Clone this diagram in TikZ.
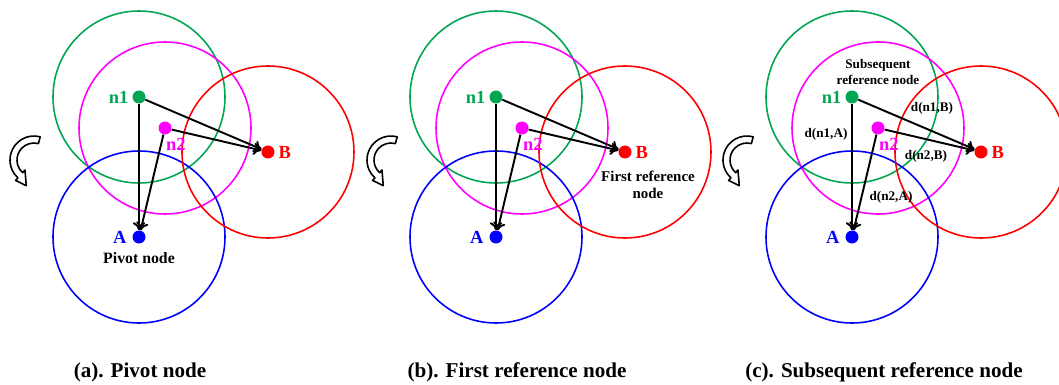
\documentclass[tikz,border=0pt]{standalone}
\usepackage{fontspec}
\setmainfont{Liberation Serif}
\definecolor{ngreen}{RGB}{0,166,81}
\definecolor{nmagenta}{RGB}{255,0,255}
\definecolor{nred}{RGB}{255,0,0}
\definecolor{nblue}{RGB}{0,0,255}
\usetikzlibrary{arrows.meta, positioning, calc}

\begin{document}
\begin{tikzpicture}[x=0.02cm, y=0.02cm,
  ring/.style={line width=0.9pt},
  dot/.style={circle, inner sep=0pt, minimum size=7.4pt},
  link/.style={-{To[length=4.5pt, width=7pt]}, line width=1.1pt},
  ltr/.style={inner sep=1pt, font=\bfseries\fontsize{10.5}{12}\selectfont},
  note/.style={align=center, inner sep=1pt, font=\bfseries\fontsize{8.5}{9.5}\selectfont},
  dist/.style={inner sep=1pt, font=\bfseries\fontsize{7.5}{9}\selectfont},
  captext/.style={font=\bfseries\fontsize{12}{14}\selectfont},
  turn/.style={draw, fill=white, line width=0.9pt, line join=round}
]
  \useasboundingbox (0,0) rectangle (1059,-385);

  \foreach \p/\dx in {a/0, b/357, c/713}{
    \begin{scope}[shift={(\dx,0)}]
      \node[dot, fill=ngreen] (n1\p) at (139,-97) {};
      \node[dot, fill=nmagenta] (n2\p) at (165,-128) {};
      \node[dot, fill=nblue] (A\p) at (139,-237) {};
      \node[dot, fill=nred] (B\p) at (268,-152) {};
      % ranges
      \draw[ring, ngreen] (n1\p) circle[radius=86];
      \draw[ring, nmagenta] (n2\p) circle[radius=86];
      \draw[ring, nblue] (A\p) circle[radius=86];
      \draw[ring, nred] (B\p) circle[radius=86];
      % distances
      \draw[link] (n1\p) -- (A\p);
      \draw[link] (n1\p) -- (B\p);
      \draw[link] (n2\p) -- (A\p);
      \draw[link] (n2\p) -- (B\p);
      \node[ltr, ngreen, left=1pt of n1\p] (tn1\p) {n1};
      \node[ltr, nmagenta, anchor=north west] (tn2\p) at ($(n2\p)+(-1,-8)$) {n2};
      \node[ltr, nblue, left=2pt of A\p] (tA\p) {A};
      \node[ltr, nred, right=1pt of B\p] (tB\p) {B};
      % rotation
      \coordinate (rc\p) at (34,-160);
      \draw[turn] ($(rc\p)+(75:24)$) arc[start angle=75, end angle=228, radius=24]
        -- ($(rc\p)+(228:27.5)$) -- ($(rc\p)+(228:20.5)+(300:12)$)
        -- ($(rc\p)+(228:13.5)$) -- ($(rc\p)+(228:17)$)
        arc[start angle=228, end angle=75, radius=17] -- cycle;
    \end{scope}
  }

  \node[note, font=\bfseries\fontsize{9}{10}\selectfont] (pivot) [below=4pt of Aa] {Pivot node};
  \node[note] (firstref) at ($(Bb)+(23,-33)$) {First reference\\node};
  \node[note, font=\bfseries\fontsize{7.5}{9.5}\selectfont] (subref) at ($(n1c)+(26,25)$) {Subsequent\\reference node};

  \node[dist] (dn1A) at (826,-134) {d(n1,A)};
  \node[dist] (dn1B) at (932,-108) {d(n1,B)};
  \node[dist] (dn2B) at (926,-156) {d(n2,B)};
  \node[dist] (dn2A) at (891,-197) {d(n2,A)};

  \node[captext] (capa) at (140,-372) {(a). Pivot node};
  \node[captext] (capb) at (517,-372) {(b). First reference node};
  \node[captext] (capc) at (884,-372) {(c). Subsequent reference node};
\end{tikzpicture}
\end{document}
